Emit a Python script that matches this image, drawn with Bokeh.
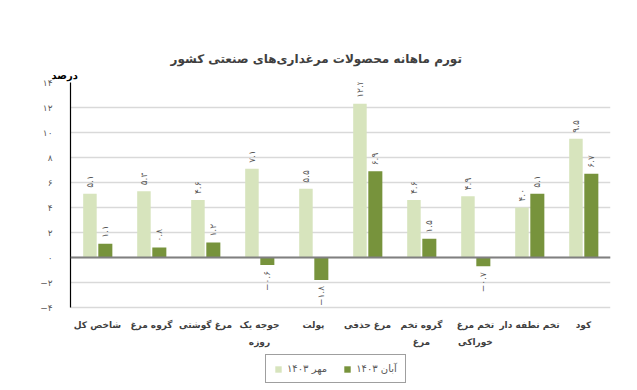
from bokeh.plotting import figure
from bokeh.models import (ColumnDataSource, FactorRange, Range1d, Span, Legend, LegendItem,
                          FixedTicker, Title)
from bokeh.transform import dodge
from bokeh.core.properties import value
from bokeh.embed import file_html
from bokeh.resources import INLINE

categories = ["شاخص کل", "گروه مرغ", "مرغ گوشتی", "جوجه یک\nروزه", "پولت",
              "مرغ حذفی", "گروه تخم\nمرغ", "تخم مرغ\nخوراکی", "تخم نطفه دار", "کود"]
mehr_1403 = [5.1, 5.3, 4.6, 7.1, 5.5, 12.3, 4.6, 4.9, 4.0, 9.5]
aban_1403 = [1.1, 0.8, 1.2, -0.6, -1.8, 6.9, 1.5, -0.7, 5.1, 6.7]
y_ticks = [-4, -2, 0, 2, 4, 6, 8, 10, 12, 14]
series_names = ["مهر ۱۴۰۳", "آبان ۱۴۰۳"]
title_text = "تورم ماهانه محصولات مرغداری‌های صنعتی کشور"
unit_text = "درصد"

FONT = "DejaVu Sans"
LIGHT = "#d7e4bd"
DARK = "#77933c"
TXT = "#595959"

tr = str.maketrans("0123456789-", "۰۱۲۳۴۵۶۷۸۹−")
def fa(v):
    return str(v).translate(tr)

y_lo, y_hi = min(y_ticks), max(y_ticks)
# frame extends below the value axis to hold category labels and legend
p = figure(x_range=FactorRange(*categories, range_padding=0),
           y_range=Range1d(y_lo - 6.64, y_hi),
           width=637, height=390, output_backend="svg", toolbar_location=None,
           x_axis_location=None,
           min_border_left=70, min_border_right=27, min_border_top=82, min_border_bottom=0)
p.title.text = ""
p.outline_line_color = None
p.xgrid.grid_line_color = None
p.ygrid.grid_line_color = "#d9d9d9"
p.ygrid.grid_line_width = 1.5
p.yaxis.ticker = FixedTicker(ticks=y_ticks)
p.yaxis.bounds = (y_lo, y_hi)
p.yaxis.major_label_overrides = {t: fa(t) for t in y_ticks}
p.yaxis.major_tick_line_color = None
p.yaxis.minor_tick_line_color = None
p.yaxis.axis_line_color = "#000000"
p.yaxis.axis_line_width = 1.2
p.yaxis.major_label_text_font = FONT
p.yaxis.major_label_text_font_size = "9px"
p.yaxis.major_label_text_color = TXT
p.yaxis.major_label_standoff = 12

src = ColumnDataSource(dict(cat=categories, mehr=mehr_1403, aban=aban_1403,
                            base=[y_lo] * len(categories)))
r1 = p.vbar(x=dodge("cat", -0.14, range=p.x_range), top="mehr", width=0.25, source=src,
            fill_color=LIGHT, line_color=None)
r2 = p.vbar(x=dodge("cat", 0.145, range=p.x_range), top="aban", width=0.26, source=src,
            fill_color=DARK, line_color=None)

p.add_layout(Span(location=0, dimension="width", line_color="#808080", line_width=2))

# category labels under the value axis
p.text(x="cat", y="base", text="cat", source=src, y_offset=12,
       text_align="center", text_baseline="top", text_line_height=1.75,
       text_font=value(FONT), text_font_size="9px", text_font_style="bold",
       text_color="#404040")

def split(vals, positive):
    keep = [(c, v) for c, v in zip(categories, vals) if (v >= 0) == positive]
    return ColumnDataSource(dict(cat=[c for c, _ in keep], y=[v for _, v in keep],
                                 t=[fa(v) for _, v in keep]))

for vals, off in ((mehr_1403, -0.14), (aban_1403, 0.145)):
    for positive in (True, False):
        p.text(x=dodge("cat", off, range=p.x_range), y="y", text="t",
               source=split(vals, positive), angle=90, angle_units="deg",
               text_align="left" if positive else "right", text_baseline="middle",
               y_offset=-6 if positive else 6,
               text_font=value(FONT), text_font_size="9px", text_color=TXT)

p.add_layout(Title(text=unit_text, align="left", offset=-19, standoff=4, text_font=FONT,
                   text_font_size="10px", text_font_style="bold", text_color="#000000"), "above")
p.add_layout(Title(text=title_text, align="left", offset=100, standoff=0, text_font=FONT,
                   text_font_size="12px", text_font_style="bold", text_color="#404040"), "above")

legend = Legend(items=[LegendItem(label=series_names[0], renderers=[r1]),
                       LegendItem(label=series_names[1], renderers=[r2])],
                orientation="horizontal", location=(195, 7),
                border_line_color="#404040", border_line_width=1,
                glyph_width=8, glyph_height=8, label_standoff=5, spacing=16,
                padding=8, margin=0, label_text_font=FONT, label_text_font_size="10px",
                label_text_color=TXT)
p.add_layout(legend)

open("out.html", "w").write(file_html(p, INLINE))
